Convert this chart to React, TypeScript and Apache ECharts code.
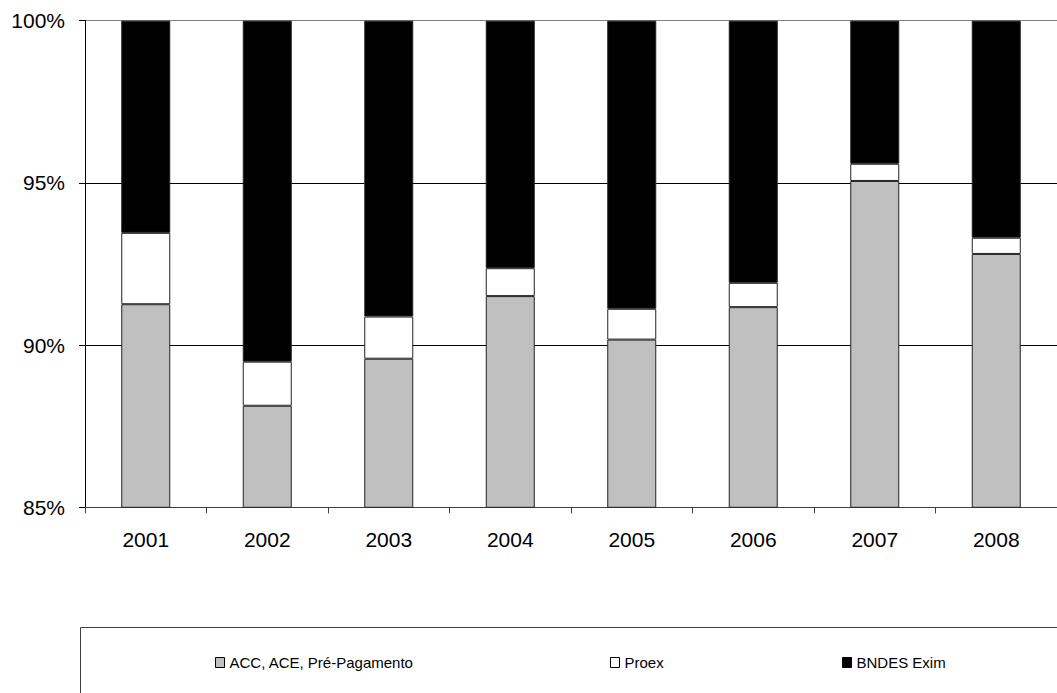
import React, { useEffect, useRef } from "react";
import * as echarts from "echarts";

// Export financing mix by year (% of total)
const years = ["2001", "2002", "2003", "2004", "2005", "2006", "2007", "2008"];
const accAcePrePagamento = [91.26, 88.13, 89.58, 91.51, 90.17, 91.17, 95.06, 92.81];
const proex = [2.2, 1.36, 1.3, 0.86, 0.95, 0.75, 0.53, 0.5];
const bndesExim = [6.54, 10.51, 9.12, 7.63, 8.88, 8.08, 4.41, 6.69];

const seriesNames = ["ACC, ACE, Pré-Pagamento", "Proex", "BNDES Exim"];
const seriesColors = ["#c0c0c0", "#ffffff", "#000000"];

const FONT = "'Liberation Sans', Arial, sans-serif";

export default function App() {
  const ref = useRef<HTMLDivElement>(null);

  useEffect(() => {
    document.body.style.margin = "0";
    if (!ref.current) return;
    const chart = echarts.init(ref.current, undefined, { renderer: "svg" });

    const values = [accAcePrePagamento, proex, bndesExim];

    const legendPos = [215, 610, 842];

    chart.setOption({
      animation: false,
      backgroundColor: "#ffffff",
      grid: { left: 85, top: 20.7, width: 980, bottom: 185.7, containLabel: false },
      xAxis: {
        type: "category",
        data: years,
        boundaryGap: true,
        axisLine: { show: true, lineStyle: { color: "#404040", width: 1 } },
        axisTick: { show: true, length: 6, alignWithLabel: false, lineStyle: { color: "#404040" } },
        axisLabel: { color: "#000", fontSize: 21, fontFamily: FONT, margin: 22 },
        splitLine: { show: false },
      },
      yAxis: {
        type: "value",
        min: 85,
        max: 100,
        interval: 5,
        axisLine: { show: true, lineStyle: { color: "#000", width: 1 } },
        axisTick: { show: true, length: 6, lineStyle: { color: "#000" } },
        axisLabel: { color: "#000", fontSize: 21, fontFamily: FONT, margin: 20, formatter: "{value}%" },
        splitLine: { show: true, lineStyle: { color: ["#000", "#000", "#000", "#808080"], width: 1 } },
      },
      legend: seriesNames.map((name, i) => ({
        data: [name],
        left: legendPos[i],
        top: 655,
        padding: 0,
        itemWidth: 9,
        itemHeight: 10,
        icon: "rect",
        itemStyle: { borderColor: "#000", borderWidth: 1 },
        textStyle: { color: "#000", fontSize: 15, fontFamily: FONT },
        selectedMode: false,
      })),
      graphic: [
        {
          type: "rect",
          shape: { x: 80.5, y: 627.5, width: 1000, height: 100 },
          style: { fill: "none", stroke: "#404040", lineWidth: 1 },
          z: -1,
        },
      ],
      series: seriesNames.map((name, i) => ({
        name,
        type: "bar",
        stack: "total",
        barWidth: 49,
        data: values[i],
        itemStyle: { color: seriesColors[i], borderColor: "#222", borderWidth: 1 },
        emphasis: { disabled: true },
      })),
    });

    return () => chart.dispose();
  }, []);

  return (
    <div
      ref={ref}
      style={{ position: "absolute", left: 0, top: 0, width: 1057, height: 693 }}
    />
  );
}
